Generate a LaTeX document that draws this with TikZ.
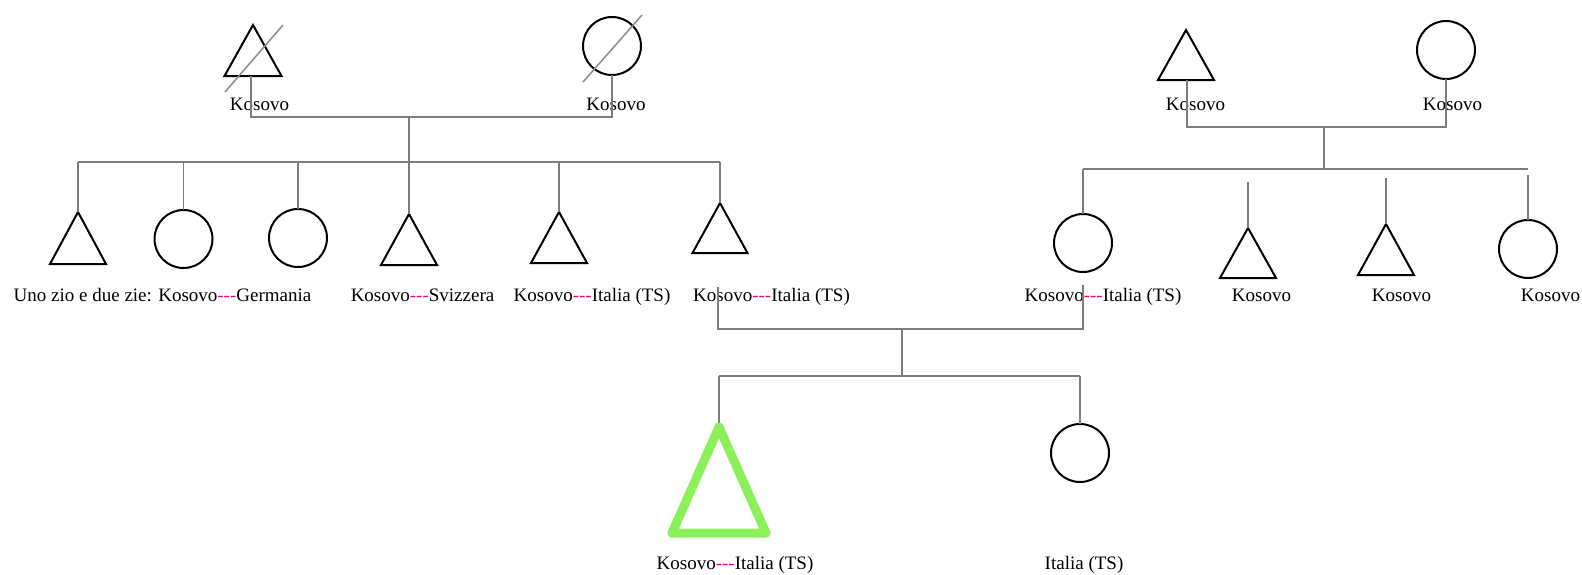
\documentclass[tikz,border=0pt]{standalone}
\usepackage{fontspec}
\setmainfont{Liberation Serif}
\definecolor{connc}{RGB}{125,125,125}
\definecolor{strikec}{RGB}{140,140,140}
\definecolor{greenc}{RGB}{140,240,90}
\newcommand\kdash{\textcolor{magenta}{-{}-{}-}}
\begin{document}
\begin{tikzpicture}[x=1pt,y=-1pt,
  conn/.style={draw=connc, line width=1.5pt},
  shp/.style={draw=black, line width=2pt, line join=miter},
  fem/.style={circle, draw=black, line width=2pt, minimum size=58pt, inner sep=0pt, outer sep=0pt},
  strike/.style={draw=strikec, line width=1.5pt},
  lbl/.style={font=\fontsize{19}{21}\selectfont, inner sep=0pt, anchor=base, text=black},
  prob/.style={draw=greenc, line width=9pt, line join=round},
]
\useasboundingbox (0,0) rectangle (1582,574);

% ---------- top left couple ----------
\coordinate (gf) at (253,25);
\draw[shp] (gf) -- ++(28.5,51) -- ++(-57,0) -- cycle;
\coordinate (gfb) at (251,76);
\draw[strike] (225,92) -- (283,25);
\node[fem] (gm) at (612,46) {};
\draw[strike] (583,82) -- (642,15);
\node[lbl] (lgf) at (259.5,110) {Kosovo};
\node[lbl] (lgm) at (616,110) {Kosovo};
\coordinate (u1) at (409,117);
\coordinate (s1) at (409,162);
\draw[conn] (gfb) -- (gfb |- u1) -- (gm.south |- u1) -- (gm.south);
\draw[conn] (u1) -- (s1);

% ---------- left children ----------
\coordinate (c1) at (78,212);
\draw[shp] (c1) -- ++(28,52) -- ++(-56,0) -- cycle;
\node[fem] (c2) at (183.5,239) {};
\node[fem] (c3) at (298,238) {};
\coordinate (c4) at (409,214);
\draw[shp] (c4) -- ++(28,51) -- ++(-56,0) -- cycle;
\coordinate (c5) at (559,212);
\draw[shp] (c5) -- ++(28,51) -- ++(-56,0) -- cycle;
\coordinate (c6) at (720,203);
\draw[shp] (c6) -- ++(27.5,50) -- ++(-55,0) -- cycle;

\draw[conn] (c1 |- s1) -- (c6 |- s1);
\draw[conn] (c1 |- s1) -- (c1);
\draw[conn] (c2.north |- s1) -- (c2.north);
\draw[conn] (c3.north |- s1) -- (c3.north);
\draw[conn] (c4 |- s1) -- (c4);
\draw[conn] (c5 |- s1) -- (c5);
\draw[conn] (c6 |- s1) -- (c6);

\node[lbl] (l1) at (162.5,301) {Uno zio e due zie: Kosovo\kdash Germania};
\node[lbl] (l4) at (422.5,301) {Kosovo\kdash Svizzera};
\node[lbl] (l5) at (592,301) {Kosovo\kdash Italia (TS)};
\node[lbl] (l6) at (771.5,301) {Kosovo\kdash Italia (TS)};

% ---------- top right couple ----------
\coordinate (rf) at (1186,30);
\draw[shp] (rf) -- ++(28,50) -- ++(-56,0) -- cycle;
\coordinate (rfb) at (1187,80);
\node[fem] (rm) at (1446,50) {};
\node[lbl] (lrf) at (1195.5,110) {Kosovo};
\node[lbl] (lrm) at (1452.5,110) {Kosovo};
\coordinate (u2) at (1324,127);
\coordinate (s2) at (1324,169);
\draw[conn] (rfb) -- (rfb |- u2) -- (rm.south |- u2) -- (rm.south);
\draw[conn] (u2) -- (s2);

% ---------- right children ----------
\node[fem] (d1) at (1083,243) {};
\coordinate (d2) at (1248,228);
\draw[shp] (d2) -- ++(28,50) -- ++(-56,0) -- cycle;
\coordinate (d3) at (1386,224);
\draw[shp] (d3) -- ++(28,51) -- ++(-56,0) -- cycle;
\node[fem] (d4) at (1528,249) {};

\draw[conn] (d1.north |- s2) -- (d4.north |- s2);
\draw[conn] (d1.north |- s2) -- (d1.north);
\draw[conn] ([yshift=-13pt]d2 |- s2) -- (d2);
\draw[conn] ([yshift=-9pt]d3 |- s2) -- (d3);
\draw[conn] ([yshift=-6pt]d4.north |- s2) -- (d4.north);

\node[lbl] (ld1) at (1103,301) {Kosovo\kdash Italia (TS)};
\node[lbl] (ld2) at (1261.5,301) {Kosovo};
\node[lbl] (ld3) at (1401.5,301) {Kosovo};
\node[lbl] (ld4) at (1550.5,301) {Kosovo};

% ---------- marriage of c6 and d1 ----------
\coordinate (mA) at (718,287);
\coordinate (mB) at (1083,285);
\coordinate (u3) at (902,329);
\coordinate (s3) at (902,376);
\draw[conn] (mA) -- (mA |- u3) -- (mB |- u3) -- (mB);
\draw[conn] (u3) -- (s3);

% ---------- grandchildren ----------
\coordinate (g1) at (719,427);
\draw[prob] (g1) -- ++(47,106) -- ++(-94,0) -- cycle;
\node[fem] (g2) at (1080,453) {};
\draw[conn] (g1 |- s3) -- (g2.north |- s3);
\draw[conn] (g1 |- s3) -- ([yshift=4pt]g1);
\draw[conn] (g2.north |- s3) -- (g2.north);

\node[lbl] (lg1) at (735,569) {Kosovo\kdash Italia (TS)};
\node[lbl] (lg2) at (1084,569) {Italia (TS)};
\end{tikzpicture}
\end{document}
